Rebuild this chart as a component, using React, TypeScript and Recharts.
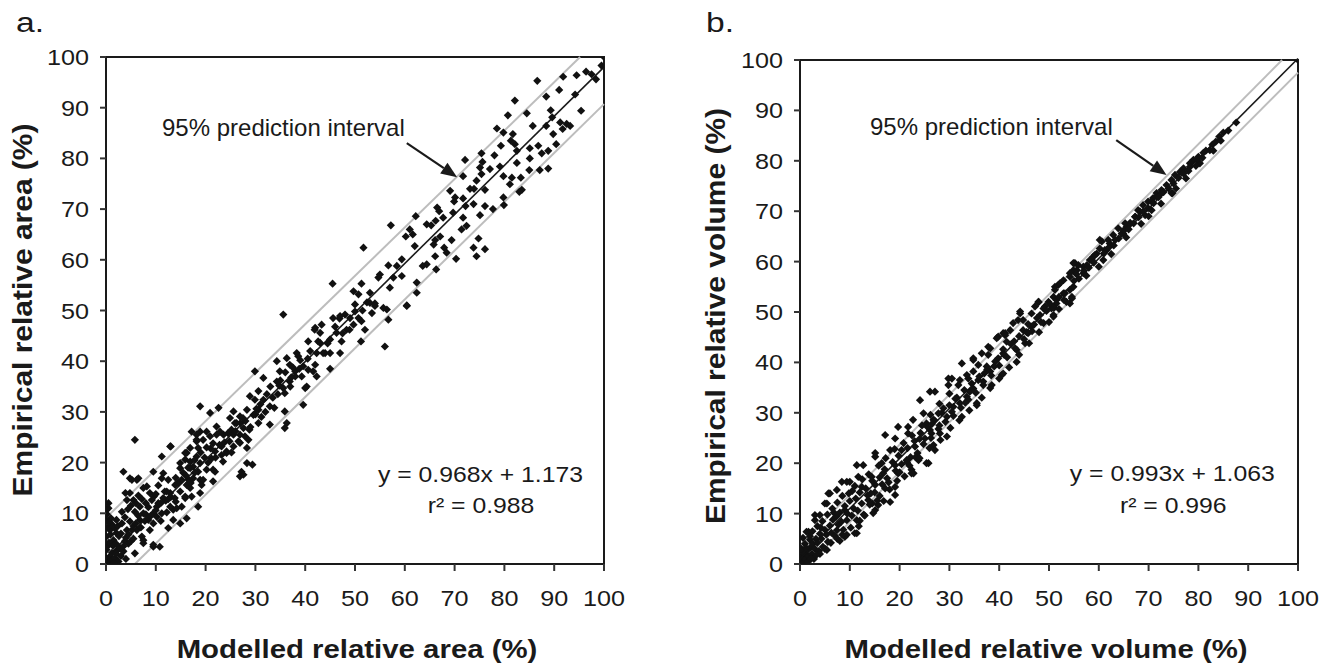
import { ScatterChart, Scatter, XAxis, YAxis, ReferenceLine, ReferenceArea } from 'recharts'

// modelled (x) vs empirical (y)
const areaPoints: [number, number][] = [
  [100, 100], [99.5, 98.3], [98.4, 95.6], [97.5, 96.6], [96.4, 97.1], [94.5, 96.4], [91.8, 96.1], [86.6, 95.3],
  [91.0, 93.5], [94.2, 92.6], [88.4, 92.2], [82.1, 91.4], [95.4, 89.4], [89.3, 89.5], [89.6, 88.1], [84.5, 88.9],
  [80.7, 88.5], [92.5, 86.8], [91.2, 87.1], [93.2, 86.4], [88.4, 86.4], [85.7, 86.4], [78.5, 85.9], [89.8, 84.8],
  [91.7, 85.8], [81.7, 84.8], [79.8, 85.1], [81.3, 83.5], [82.1, 82.8], [90.4, 82.8], [88.8, 81.5], [86.8, 82.5],
  [85.1, 82.0], [87.5, 81.0], [82.5, 81.5], [79.3, 82.5], [78.0, 80.6], [75.4, 81.0], [72.1, 79.7], [75.6, 79.3],
  [85.1, 80.0], [82.5, 79.1], [79.1, 78.4], [77.1, 77.9], [75.1, 78.2], [75.4, 76.9], [71.7, 76.5], [85.0, 77.7],
  [88.8, 78.0], [87.1, 77.7], [81.5, 76.2], [79.8, 76.5], [83.3, 76.2], [81.1, 74.9], [83.5, 73.8], [83.0, 73.4],
  [79.8, 72.3], [79.9, 70.8], [77.7, 70.0], [76.1, 70.6], [75.1, 68.8], [74.4, 75.6], [76.1, 73.8], [73.9, 74.0],
  [73.1, 74.0], [71.7, 72.1], [70.1, 72.3], [69.1, 73.6], [69.9, 71.5], [73.8, 71.0], [72.2, 70.6], [71.7, 68.3],
  [71.4, 66.0], [72.4, 66.7], [74.8, 64.2], [73.8, 62.4], [74.4, 60.7], [76.1, 62.1], [69.7, 69.3], [66.5, 70.3],
  [66.9, 69.6], [67.7, 68.3], [66.2, 67.7], [64.4, 67.0], [65.3, 66.8], [62.2, 68.6], [57.2, 66.8], [61.0, 66.0],
  [60.2, 64.6], [61.6, 65.0], [62.0, 62.7], [66.1, 63.9], [67.1, 64.6], [65.8, 63.0], [67.9, 62.4], [69.4, 63.9],
  [70.3, 60.2], [68.4, 61.4], [66.1, 60.7], [64.4, 59.1], [63.6, 58.8], [66.3, 58.1], [59.4, 60.1], [58.4, 58.8],
  [56.7, 58.9], [55.0, 57.1], [54.7, 56.5], [57.7, 56.5], [59.4, 56.8], [57.0, 54.5], [62.4, 55.5], [62.4, 53.5],
  [60.4, 51.0], [51.7, 62.4], [45.5, 55.3], [51.3, 55.3], [49.7, 53.8], [50.7, 53.2], [53.0, 53.5], [52.4, 51.6],
  [54.0, 51.4], [50.0, 51.2], [48.0, 49.2], [46.9, 48.4], [56.4, 50.2], [56.7, 48.2], [51.3, 47.9], [52.0, 46.2],
  [43.3, 47.2], [41.9, 46.2], [48.9, 46.2], [53.0, 51.5], [54.0, 50.9], [55.7, 50.5], [60.4, 50.9], [53.4, 49.5],
  [50.7, 48.5], [49.7, 47.2], [47.0, 48.9], [45.6, 48.5], [48.3, 46.2], [51.2, 43.9], [47.3, 43.9], [46.3, 45.6],
  [43.0, 45.6], [40.6, 43.9], [42.6, 43.9], [45.0, 41.6], [47.0, 41.6], [44.0, 41.6], [56.0, 42.9], [45.0, 38.5],
  [39.6, 39.0], [41.6, 38.0], [42.3, 37.0], [40.3, 35.0], [39.6, 31.4], [35.6, 49.2], [42.0, 46.6], [45.0, 44.3],
  [43.0, 43.6], [42.3, 41.6], [43.6, 41.6], [42.0, 39.3], [40.6, 38.3], [38.6, 41.0], [38.3, 41.6], [36.3, 40.6],
  [36.9, 39.3], [34.3, 40.0], [39.3, 37.0], [38.0, 38.0], [36.9, 36.0], [34.9, 38.0], [34.3, 36.0], [35.6, 34.7],
  [40.0, 34.7], [35.9, 33.7], [36.3, 27.8], [35.9, 26.8], [35.9, 30.1], [31.6, 36.7], [30.6, 34.1], [29.9, 32.4],
  [31.6, 32.4], [32.9, 31.1], [30.6, 30.4], [32.9, 27.5], [30.6, 27.8], [29.6, 29.4], [29.9, 38.0], [28.9, 33.1],
  [28.3, 30.4], [26.9, 29.1], [25.6, 30.1], [24.9, 28.8], [25.9, 27.8], [27.6, 26.8], [25.2, 26.5], [25.6, 25.5],
  [26.9, 25.5], [27.9, 25.2], [28.6, 24.5], [26.6, 24.2], [28.3, 22.9], [25.6, 23.2], [24.2, 22.2], [23.2, 23.2],
  [23.6, 25.5], [22.9, 26.1], [22.2, 27.1], [22.6, 30.8], [20.9, 29.8], [23.2, 21.5], [21.5, 23.8], [20.9, 25.2],
  [20.2, 26.1], [18.9, 26.1], [18.2, 25.5], [19.5, 24.5], [18.9, 31.1], [17.2, 26.1], [18.2, 24.2], [16.9, 22.9],
  [16.2, 21.9], [15.9, 20.6], [18.2, 21.2], [18.9, 19.9], [17.5, 19.2], [18.5, 18.2], [20.2, 18.6], [21.9, 18.2],
  [21.5, 16.3], [18.9, 16.6], [17.5, 16.9], [19.2, 15.6], [18.9, 14.0], [16.9, 18.9], [14.9, 18.9], [15.2, 16.6],
  [16.2, 15.6], [16.9, 15.0], [17.2, 13.3], [15.9, 13.0], [14.9, 14.3], [13.9, 15.6], [15.2, 11.3], [13.5, 10.7],
  [12.5, 16.6], [11.5, 17.9], [11.2, 21.2], [13.0, 23.2], [12.9, 14.0], [11.8, 14.3], [12.9, 11.3], [11.2, 10.0],
  [10.2, 11.3], [10.2, 9.3], [13.5, 8.7], [12.5, 7.1], [10.8, 3.4], [9.5, 3.4], [9.5, 18.2], [9.2, 12.6],
  [9.5, 8.0], [8.5, 8.7], [8.8, 6.7], [7.5, 10.0], [8.2, 15.3], [7.5, 15.0], [6.2, 16.6], [5.2, 16.6],
  [5.8, 24.5], [3.5, 18.2], [4.2, 12.6], [4.8, 14.0], [5.8, 10.3], [6.8, 8.7], [6.2, 6.7], [7.2, 5.4],
  [7.5, 4.1], [5.8, 2.1], [4.8, 8.4], [4.2, 6.7], [3.2, 10.3], [2.1, 6.1], [1.5, 4.7], [0.5, 12.0],
  [0.1, 10.7], [0, 8.7], [0.8, 6.7], [0.1, 5.4], [0.1, 2.8], [0, 0.4], [26.9, 17.3], [27.2, 18.2],
  [29.4, 19.6], [12.9, 23.2], [18.2, 24.5], [18.5, 22.9], [22.2, 25.5], [26.9, 23.9], [24.2, 21.9], [21.9, 22.2],
  [15.9, 21.9], [16.9, 20.2], [21.5, 18.6], [4.8, 16.9], [6.5, 16.9], [11.2, 16.9], [3.9, 14.0], [5.5, 12.6],
  [6.8, 11.3], [9.6, 13.3], [12.2, 14.3], [14.2, 11.0], [15.9, 13.3], [16.6, 16.6], [14.9, 19.9], [19.5, 16.6],
  [18.5, 11.3], [16.2, 9.0], [14.9, 8.0], [9.5, 3.8], [7.5, 4.7], [5.2, 6.7], [2.1, 8.7], [1.5, 0.1],
  [27.6, 17.6], [28.3, 19.9], [0.2, 1.0], [0.5, 0.3], [0.8, 1.5], [1.0, 0.6], [1.2, 2.2], [0.3, 3.5],
  [0.6, 4.2], [1.8, 1.2], [2.2, 2.6], [2.5, 0.5], [1.4, 3.6], [0.9, 5.8], [2.0, 4.0], [2.8, 3.2],
  [3.0, 1.6], [0.4, 7.2], [1.2, 7.8], [0.2, 9.8], [0.5, 11.0], [0.3, 0.1], [1.6, 0.2], [3.5, 2.5],
  [3.8, 4.5], [2.6, 5.5], [4.5, 4.0], [4.0, 1.0], [3.0, 6.0], [4.0, 5.2], [5.0, 4.5], [5.5, 7.5],
  [6.5, 9.5], [7.0, 7.2], [8.0, 9.8], [8.5, 11.2], [9.5, 10.0], [10.5, 12.0], [11.0, 8.5], [12.0, 12.5],
  [13.0, 13.2], [14.0, 12.3], [14.5, 16.0], [16.0, 17.5], [17.0, 16.0], [17.8, 18.0], [19.8, 21.0], [20.5, 20.0],
  [21.0, 22.8], [22.0, 21.0], [23.8, 24.0], [24.5, 25.8], [26.0, 26.2], [27.0, 27.8], [28.0, 28.2], [29.0, 27.0],
  [30.0, 29.5], [31.0, 31.5], [32.0, 30.0], [33.5, 32.8], [34.5, 33.5], [33.0, 35.0], [35.0, 36.2], [37.0, 35.0],
  [38.0, 37.0], [37.5, 38.8], [39.0, 40.2], [40.5, 40.5], [41.0, 42.0], [44.5, 43.5], [46.0, 46.8], [47.5, 45.5],
  [49.0, 48.5], [50.0, 49.8], [51.5, 50.0], [1.0, 9.0], [0.6, 8.2], [1.8, 7.0], [2.4, 7.5], [3.2, 8.0],
  [3.8, 9.2], [4.4, 10.8], [5.0, 11.5], [6.0, 12.0], [6.5, 13.5], [7.2, 12.8], [8.0, 12.0], [8.8, 14.0],
  [10.0, 13.8], [10.5, 15.5], [11.5, 13.0], [12.2, 10.2], [13.8, 13.0], [14.0, 17.0], [15.5, 18.0], [16.5, 19.0],
  [17.8, 20.5], [19.0, 22.0], [20.2, 23.0], [21.2, 20.8], [22.8, 23.5], [23.5, 20.2], [24.8, 24.2], [25.2, 22.0],
  [26.2, 27.8], [27.5, 28.8], [28.8, 26.5], [30.2, 30.6], [31.2, 29.0], [32.3, 33.5], [33.8, 30.8], [34.8, 35.2],
  [36.0, 37.8], [37.2, 36.8], [38.8, 38.5], [2.0, 2.0], [3.5, 3.5], [4.5, 5.8], [5.5, 5.0], [6.0, 8.0],
  [7.8, 8.5], [9.0, 9.5], [10.0, 10.6], [11.0, 12.0], [12.5, 12.8],
]

const volumePoints: [number, number][] = [
  [100, 100], [87.6, 87.6], [84.2, 84.8], [83.5, 83.8], [82.3, 82.1], [81.0, 81.6], [80.0, 80.8], [79.0, 80.2],
  [78.3, 79.5], [80.3, 79.5], [77.0, 78.5], [76.3, 77.8], [75.3, 77.2], [74.6, 76.2], [74.8, 73.6], [73.6, 75.2],
  [72.6, 74.2], [71.6, 73.6], [70.9, 72.6], [69.9, 71.9], [70.6, 70.2], [68.9, 71.2], [68.3, 69.9], [67.3, 68.9],
  [66.3, 67.7], [65.6, 66.9], [64.9, 65.6], [63.3, 64.3], [62.2, 63.6], [61.6, 62.3], [60.6, 64.0], [60.2, 62.6],
  [59.6, 61.6], [58.9, 61.0], [58.2, 60.3], [56.9, 59.0], [55.9, 59.3], [55.2, 59.7], [54.9, 58.3], [54.2, 57.7],
  [52.9, 56.3], [51.9, 55.4], [51.2, 55.0], [54.2, 54.4], [50.9, 53.0], [49.9, 52.0], [49.2, 51.1], [47.9, 52.0],
  [47.2, 51.1], [46.5, 49.7], [44.8, 48.4], [44.2, 49.7], [42.8, 47.8], [42.2, 46.4], [40.8, 45.8], [50.9, 49.4],
  [54.6, 52.7], [79.7, 80.2], [78.3, 78.8], [77.0, 77.5], [75.0, 75.5], [74.6, 73.6], [72.6, 73.6], [71.6, 72.9],
  [70.6, 71.9], [69.9, 70.6], [67.9, 70.2], [69.3, 69.2], [67.3, 68.9], [65.3, 67.6], [63.9, 66.6], [64.6, 65.6],
  [62.9, 65.3], [61.9, 64.3], [60.2, 64.3], [61.2, 62.3], [59.2, 61.3], [60.9, 60.3], [58.6, 60.3], [57.6, 59.3],
  [55.6, 58.3], [56.9, 57.7], [54.9, 59.7], [54.2, 57.0], [52.2, 55.7], [54.9, 55.0], [51.2, 54.4], [52.9, 53.7],
  [54.6, 53.0], [51.5, 52.4], [54.2, 51.7], [53.2, 53.7], [51.5, 51.7], [53.5, 52.0], [50.5, 50.7], [48.9, 50.7],
  [47.9, 52.0], [44.2, 50.1], [50.9, 49.1], [48.2, 49.4], [48.9, 47.8], [46.5, 47.1], [43.8, 48.4], [44.8, 46.4],
  [45.8, 45.8], [41.2, 45.8], [39.8, 45.1], [41.5, 44.1], [45.2, 43.8], [43.5, 42.5], [40.8, 41.8], [38.2, 42.8],
  [39.8, 40.8], [36.5, 41.8], [34.8, 40.5], [32.5, 39.8], [37.5, 39.2], [38.2, 38.2], [40.5, 37.5], [34.8, 38.2],
  [33.8, 36.8], [35.8, 36.5], [36.8, 35.5], [38.2, 34.9], [32.1, 36.5], [30.5, 36.8], [29.8, 35.5], [34.1, 34.2],
  [33.5, 33.2], [35.5, 31.5], [32.1, 31.9], [30.8, 31.2], [27.1, 34.2], [26.1, 34.2], [28.8, 30.9], [27.8, 29.9],
  [29.5, 29.2], [32.5, 29.2], [26.8, 28.6], [25.4, 27.9], [24.8, 29.9], [26.1, 26.6], [28.1, 25.9], [29.5, 25.3],
  [25.1, 24.9], [26.8, 23.6], [17.1, 25.6], [19.1, 24.9], [21.7, 25.9], [26.4, 25.9], [18.1, 22.6], [20.4, 22.6],
  [23.1, 23.3], [27.1, 22.6], [21.4, 20.6], [23.8, 20.6], [22.4, 18.7], [25.8, 20.0], [22.8, 18.0], [15.1, 22.0],
  [16.4, 20.0], [19.1, 19.6], [16.7, 18.0], [19.7, 18.0], [11.4, 19.6], [11.7, 17.3], [14.4, 17.3], [8.4, 16.3],
  [10.0, 16.3], [7.4, 14.7], [5.7, 14.0], [12.4, 15.3], [15.1, 15.7], [17.1, 15.0], [19.1, 15.3], [18.1, 12.3],
  [15.1, 10.7], [13.7, 12.7], [9.0, 10.7], [5.4, 12.0], [4.0, 9.7], [3.0, 8.7], [1.7, 6.4], [9.4, 8.7],
  [11.4, 8.7], [9.0, 5.4], [11.0, 6.1], [7.4, 6.7], [5.4, 2.8], [2.0, 4.8], [0.3, 1.4], [41.2, 45.4],
  [39.5, 44.8], [37.8, 43.1], [34.8, 40.8], [29.8, 36.8], [24.1, 32.5], [22.7, 28.6], [21.7, 27.2], [19.7, 27.2],
  [15.1, 21.3], [12.7, 19.6], [9.4, 16.3], [6.0, 14.0], [5.0, 12.0], [3.0, 9.7], [1.3, 6.4], [35.5, 31.9],
  [25.4, 20.0], [22.4, 18.0], [19.1, 13.7], [15.7, 11.7], [14.7, 10.1], [11.4, 6.1], [9.4, 5.8], [43.5, 40.1],
  [40.8, 37.8], [0.2, 0.3], [0.5, 1.0], [0.8, 0.4], [1.0, 2.0], [1.2, 1.0], [1.5, 2.8], [1.8, 1.6],
  [2.0, 3.2], [2.4, 2.0], [2.6, 4.0], [3.0, 3.0], [3.2, 5.0], [3.5, 4.2], [3.8, 2.6], [4.0, 6.0],
  [4.3, 5.0], [4.6, 3.4], [5.0, 6.8], [5.3, 5.8], [5.6, 4.4], [6.0, 7.6], [6.3, 6.2], [6.6, 8.8],
  [7.0, 5.6], [7.3, 9.4], [7.7, 7.8], [8.0, 10.2], [8.3, 8.4], [8.7, 6.8], [9.0, 11.5], [9.5, 10.0],
  [10.0, 12.5], [10.4, 9.6], [10.8, 11.0], [11.2, 13.0], [11.6, 10.6], [12.0, 14.2], [12.4, 12.0], [12.8, 9.8],
  [13.2, 15.0], [13.6, 13.6], [14.0, 11.8], [14.5, 16.5], [15.0, 14.2], [15.5, 12.6], [16.0, 17.2], [16.5, 15.8],
  [17.0, 18.8], [17.5, 17.0], [18.0, 14.8], [18.6, 20.2], [19.2, 18.5], [19.8, 21.5], [20.4, 19.8], [21.0, 17.4],
  [21.6, 23.0], [22.2, 21.2], [23.0, 24.4], [23.6, 22.0], [24.2, 26.0], [24.8, 23.8], [25.6, 27.2], [26.3, 25.0],
  [27.0, 28.5], [27.8, 26.8], [28.5, 30.0], [29.2, 28.2], [30.0, 31.5], [30.8, 29.4], [31.5, 33.0], [32.3, 31.0],
  [33.0, 34.5], [33.8, 32.6], [34.5, 35.8], [35.3, 34.0], [36.0, 37.2], [36.8, 36.2], [37.6, 38.6], [38.4, 37.4],
  [39.2, 40.2], [40.0, 39.4], [40.8, 42.6], [41.6, 41.0], [42.4, 43.6], [43.2, 42.8], [44.0, 45.2], [45.0, 44.6],
  [45.8, 47.6], [46.6, 46.2], [47.6, 48.8], [48.4, 48.0], [49.5, 50.2], [50.2, 51.6], [51.0, 50.8], [52.0, 53.0],
  [53.0, 52.4], [55.0, 56.2], [56.0, 56.6], [57.0, 58.2], [58.0, 58.8], [59.0, 59.8], [61.0, 61.6], [62.0, 62.8],
  [63.0, 63.2], [64.0, 64.6], [65.0, 66.2], [66.0, 66.4], [67.0, 67.6], [68.0, 68.8], [69.0, 70.0], [71.0, 71.6],
  [72.0, 72.8], [73.0, 73.8], [76.0, 76.6], [78.0, 78.0], [79.5, 79.0], [81.5, 82.0], [82.8, 83.2], [85.0, 85.6],
  [2.5, 6.5], [3.5, 7.5], [4.5, 8.5], [5.5, 9.8], [6.5, 11.0], [7.5, 12.2], [8.5, 13.5], [6.8, 10.2],
  [4.2, 7.2], [2.0, 5.5], [1.0, 4.0], [0.5, 2.5], [1.5, 0.4], [2.8, 1.0], [4.0, 2.0], [5.0, 3.0],
  [6.2, 4.2], [7.5, 5.0], [8.5, 5.8], [10.2, 7.2], [12.0, 8.6], [13.0, 9.6], [14.2, 14.0], [16.0, 13.5],
  [17.8, 16.2], [20.0, 18.2], [21.5, 20.2], [23.2, 21.2], [24.0, 24.8], [26.5, 27.8], [28.0, 27.5], [30.5, 30.2],
  [31.2, 32.8], [33.2, 32.0], [34.8, 34.8], [37.0, 37.8], [39.0, 39.2], [41.0, 41.5], [43.0, 44.2], [45.5, 46.0],
  [47.0, 47.5], [12.5, 16.8], [13.8, 17.8], [10.5, 14.5], [15.8, 19.5], [17.2, 21.0], [19.0, 22.8], [20.8, 24.0],
  [22.5, 25.5], [24.5, 27.5], [26.2, 29.6], [28.0, 31.8], [30.0, 33.8], [31.8, 35.5], [33.5, 37.5], [35.8, 39.5],
  [37.8, 41.5], [0.6, 5.2], [0.3, 3.0], [1.2, 3.2], [2.2, 1.0], [3.3, 1.8], [9.8, 14.0], [11.0, 15.5],
  [8.0, 4.6], [11.8, 7.5], [14.5, 12.0], [16.8, 12.5], [19.5, 16.5], [22.0, 19.5], [24.0, 21.0], [26.0, 23.0],
  [28.2, 24.6], [30.2, 27.0], [32.0, 28.5], [34.0, 30.5], [36.5, 33.0], [38.5, 35.5], [40.0, 36.8], [42.0, 39.0],
  [44.0, 41.5], [46.0, 43.8], [48.0, 46.0], [50.0, 48.0], [52.0, 50.6], [55.5, 57.5], [57.5, 57.2], [60.0, 59.0],
  [62.5, 61.5], [65.5, 64.8], [68.5, 67.5], [70.0, 69.0], [72.5, 71.5], [74.0, 74.5], [75.5, 74.5], [77.5, 76.5],
  [80.8, 80.6], [83.0, 82.0], [84.5, 84.0], [86.0, 86.0],
]

// fitted line and 95% prediction bounds, end points
const areaFit = [{ x: 0, y: 1.2 }, { x: 100, y: 98.0 }]
const areaUpper = [{ x: 0, y: 9.1 }, { x: 95.2, y: 100 }]
const areaLower = [{ x: 5.8, y: 0 }, { x: 100, y: 90.7 }]
const areaArrow = [{ x: 60.4, y: 83.0 }, { x: 70.5, y: 76.3 }]

const volumeFit = [{ x: 0, y: 1.1 }, { x: 100, y: 100.3 }]
const volumeUpper = [{ x: 0, y: 3.8 }, { x: 96.8, y: 100 }]
const volumeLower = [{ x: 1.6, y: 0 }, { x: 100, y: 97.5 }]
const volumeArrow = [{ x: 63.5, y: 84.1 }, { x: 73.6, y: 77.2 }]

const axisTicks = [0, 10, 20, 30, 40, 50, 60, 70, 80, 90, 100]

const FONT = "'Liberation Sans', Arial, Helvetica, sans-serif"
const INK = '#1a1a1a'

const toXY = (pts: [number, number][]) => pts.map(([x, y]) => ({ x, y }))

function Diamond(props: any) {
  const { cx, cy } = props
  if (cx == null || cy == null) return null
  const r = 4.1
  return <path d={`M${cx},${cy - r}L${cx + r},${cy}L${cx},${cy + r}L${cx - r},${cy}Z`} fill="#111" />
}

function Arrow(props: any) {
  const { x1, y1, x2, y2 } = props
  if ([x1, y1, x2, y2].some((v) => v == null || isNaN(v))) return null
  const ang = Math.atan2(y2 - y1, x2 - x1)
  const len = 16, half = 6.5
  const bx = x2 - len * Math.cos(ang), by = y2 - len * Math.sin(ang)
  const px = -Math.sin(ang) * half, py = Math.cos(ang) * half
  return (
    <g>
      <line x1={x1} y1={y1} x2={bx} y2={by} stroke={INK} strokeWidth={2.2} />
      <polygon points={`${x2},${y2} ${bx + px},${by + py} ${bx - px},${by - py}`} fill={INK} />
    </g>
  )
}

function YTick({ x, y, payload }: any) {
  return (
    <g transform={`translate(${x},${y}) scale(1.12,1)`}>
      <text textAnchor="end" dominantBaseline="central" fontSize={22.5} fontFamily={FONT} fill={INK}>{payload.value}</text>
    </g>
  )
}

function XTick({ x, y, payload }: any) {
  return (
    <g transform={`translate(${x},${y}) scale(1.12,1)`}>
      <text textAnchor="middle" dominantBaseline="central" fontSize={22.5} fontFamily={FONT} fill={INK}>{payload.value}</text>
    </g>
  )
}

interface PanelProps {
  points: [number, number][]
  fit: { x: number; y: number }[]
  upper: { x: number; y: number }[]
  lower: { x: number; y: number }[]
  arrow: { x: number; y: number }[]
  width: number
  top: number
  right: number
}

function Panel({ points, fit, upper, lower, arrow, width, top, right }: PanelProps) {
  return (
    <ScatterChart width={width} height={667} margin={{ top, right, bottom: 0, left: 0 }}>
      <XAxis type="number" dataKey="x" domain={[0, 100]} ticks={axisTicks} interval={0} allowDataOverflow
        height={103} tickSize={7} tickMargin={27} tick={<XTick />}
        axisLine={{ stroke: INK, strokeWidth: 2 }} tickLine={{ stroke: '#333', strokeWidth: 2 }} />
      <YAxis type="number" dataKey="y" domain={[0, 100]} ticks={axisTicks} interval={0} allowDataOverflow
        width={106} tickSize={6} tickMargin={11} tick={<YTick />}
        axisLine={{ stroke: INK, strokeWidth: 2 }} tickLine={{ stroke: '#333', strokeWidth: 2 }} />
      <ReferenceArea x1={0} x2={100} y1={0} y2={100} fill="none" fillOpacity={0} stroke={INK} strokeWidth={2} ifOverflow="visible" />
      <ReferenceLine segment={upper} stroke="#bdbdbd" strokeWidth={2} ifOverflow="visible" />
      <ReferenceLine segment={lower} stroke="#bdbdbd" strokeWidth={2} ifOverflow="visible" />
      <Scatter data={toXY(points)} shape={<Diamond />} isAnimationActive={false} />
      <ReferenceLine segment={fit} stroke={INK} strokeWidth={1.6} ifOverflow="visible" />
      <ReferenceLine segment={arrow} ifOverflow="visible" shape={(p: any) => <Arrow {...p} />} />
    </ScatterChart>
  )
}

export default function App() {
  const t = { fontFamily: FONT, fill: INK }
  return (
    <div style={{ position: 'absolute', left: 0, top: 0, width: 1333, height: 667, background: '#fff', overflow: 'hidden' }}>
      <div style={{ position: 'absolute', left: 0, top: 0 }}>
        <Panel points={areaPoints} fit={areaFit} upper={areaUpper} lower={areaLower} arrow={areaArrow} width={640} top={57} right={36} />
      </div>
      <div style={{ position: 'absolute', left: 694, top: 0 }}>
        <Panel points={volumePoints} fit={volumeFit} upper={volumeUpper} lower={volumeLower} arrow={volumeArrow} width={639} top={60} right={35} />
      </div>
      <svg width={1333} height={667} style={{ position: 'absolute', left: 0, top: 0, pointerEvents: 'none' }}>
        <text transform="translate(16,32) scale(1.2,1)" fontSize={28} {...t}>a.</text>
        <text transform="translate(706,32) scale(1.2,1)" fontSize={28} {...t}>b.</text>

        <text transform="translate(31.5,310) rotate(-90) scale(1.07,1)" textAnchor="middle" fontSize={28} fontWeight="bold" {...t}>Empirical relative area (%)</text>
        <text transform="translate(725,316) rotate(-90) scale(1.07,1)" textAnchor="middle" fontSize={28} fontWeight="bold" {...t}>Empirical relative volume (%)</text>

        <text transform="translate(357,658) scale(1.13,1)" textAnchor="middle" fontSize={26} fontWeight="bold" {...t}>Modelled relative area (%)</text>
        <text transform="translate(1046,658) scale(1.13,1)" textAnchor="middle" fontSize={26} fontWeight="bold" {...t}>Modelled relative volume (%)</text>

        <text x={162} y={136} fontSize={24} {...t}>95% prediction interval</text>
        <text x={870} y={135} fontSize={24} {...t}>95% prediction interval</text>

        <text transform="translate(480.5,481.7) scale(1.1,1)" textAnchor="middle" fontSize={22.5} {...t}>y = 0.968x + 1.173</text>
        <text transform="translate(481,513.3) scale(1.1,1)" textAnchor="middle" fontSize={22.5} {...t}>r² = 0.988</text>
        <text transform="translate(1172.3,480.5) scale(1.1,1)" textAnchor="middle" fontSize={22.5} {...t}>y = 0.993x + 1.063</text>
        <text transform="translate(1173.3,513.3) scale(1.1,1)" textAnchor="middle" fontSize={22.5} {...t}>r² = 0.996</text>
      </svg>
    </div>
  )
}
